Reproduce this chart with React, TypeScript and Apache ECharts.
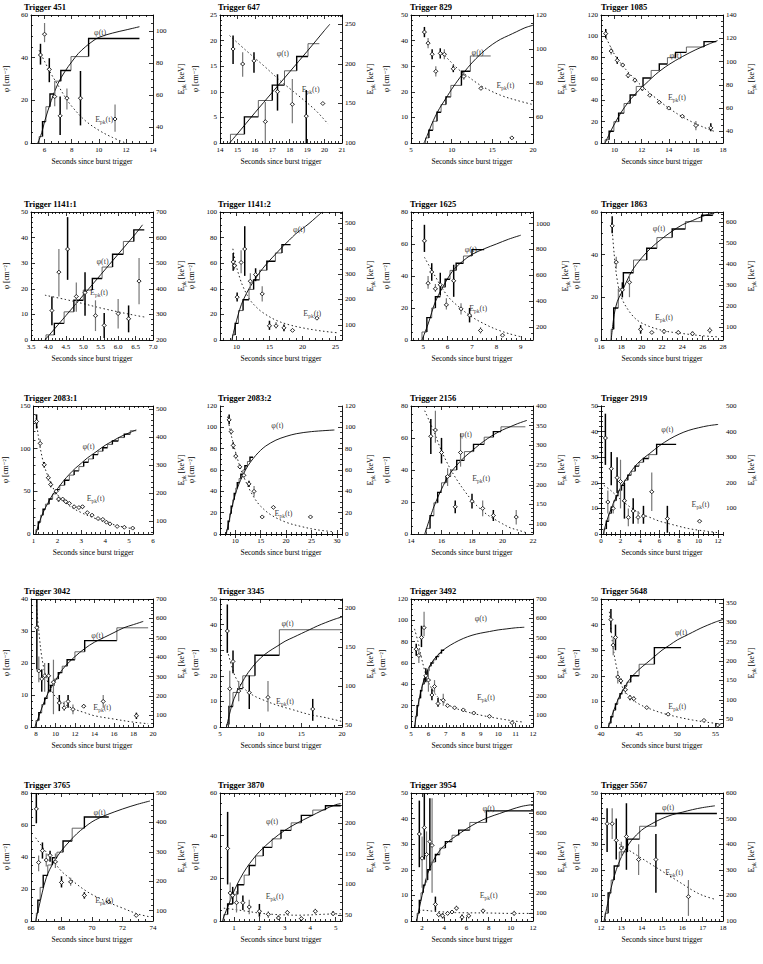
import React, { useEffect, useRef } from 'react';
import * as echarts from 'echarts';

// ---------------- Trigger 451 ----------------
const t451XTicks = [6, 8, 10, 12, 14];
const t451YTicks = [0, 20, 40, 60];
const t451RTicks = [40, 60, 80, 100];
const t451Edges = [5.6, 5.85, 6.1, 6.4, 6.75, 7.2, 7.95, 9.25, 13.0];
const t451Levels = [3, 10, 17, 23, 29, 34, 40.5, 49];
const t451Phi = [[5.5, 0], [5.8, 5], [6, 10], [6.5, 20], [7, 28], [7.5, 33.5], [8, 38], [8.5, 42], [9, 45], [9.5, 47.5], [10, 49.5], [11, 51.5], [12, 53], [13, 54.5]];
const t451Epk = [[5.7, 85, 79, 92], [6.0, 98, 93, 105], [6.35, 76, 68, 83], [6.75, 59, 53, 66], [7.15, 47, 35, 59], [7.65, 58, 51, 64], [8.65, 58, 41, 75], [11.2, 45, 37, 54]];
const t451Fit = [[5.6, 88], [6, 81], [6.5, 73], [7, 66], [7.5, 59], [8, 53], [9, 44], [10, 38], [11, 33.5], [12, 30]];

// ---------------- Trigger 647 ----------------
const t647XTicks = [14, 15, 16, 17, 18, 19, 20, 21];
const t647YTicks = [0, 5, 10, 15, 20, 25];
const t647RTicks = [100, 150, 200, 250];
const t647Edges = [14.6, 15.4, 16.2, 17.0, 17.7, 18.4, 19.05, 19.7];
const t647Levels = [1.7, 5.1, 8.3, 11.3, 14.1, 16.9, 19.4];
const t647Phi = [[14.55, 0], [15, 1.8], [16, 5.9], [17, 9.9], [18, 13.9], [19, 17.9], [20, 22], [20.3, 23.2]];
const t647Epk = [[14.75, 219, 200, 236], [15.3, 200, 184, 215], [15.95, 204, 189, 215], [16.6, 127, 100, 152], [17.3, 165, 141, 187], [18.15, 149, 125, 181], [18.95, 134, 100, 167], [19.9, 150, 150, 150]];
const t647Fit = [[14.55, 236], [15.5, 217], [16.5, 198], [17.5, 178], [18.5, 160], [19.5, 141], [20.2, 124]];

// ---------------- Trigger 829 ----------------
const t829XTicks = [5, 10, 15, 20];
const t829YTicks = [0, 10, 20, 30, 40, 50];
const t829RTicks = [60, 80, 100, 120];
const t829Edges = [6.8, 7.2, 7.7, 8.2, 8.7, 9.3, 9.9, 11.2, 12.3, 14.8];
const t829Levels = [2, 5, 8.5, 12, 15, 18, 22.5, 28, 34];
const t829Phi = [[6.6, 0], [7, 3], [7.5, 7], [8, 10.5], [8.5, 13.5], [9, 16], [9.5, 18.5], [10, 21], [11, 25.5], [12, 29.5], [13, 33], [14, 36], [15, 38.5], [16, 40.5], [17, 42], [18, 43.5], [19, 45], [20, 46]];
const t829Epk = [[6.65, 110, 107, 113], [7.1, 103.5, 100.5, 106.5], [7.6, 97, 94, 100], [8.05, 87, 84, 90], [8.6, 97.5, 94.5, 100.5], [9.1, 97, 94, 100], [10.2, 88.5, 86.5, 90.5], [11.5, 84, 82, 86], [13.6, 77, 76, 78], [17.4, 48, 48, 48]];
const t829Fit = [[8.8, 98], [10, 92], [11, 87.5], [12, 84], [13, 80.5], [14, 77.5], [16, 73], [18, 70], [20, 67.5]];

// ---------------- Trigger 1085 ----------------
const t1085XTicks = [10, 12, 14, 16, 18];
const t1085YTicks = [0, 20, 40, 60, 80, 100, 120];
const t1085RTicks = [40, 60, 80, 100, 120, 140];
const t1085Edges = [9.3, 9.6, 9.95, 10.3, 10.7, 11.15, 11.6, 12.1, 12.7, 13.3, 13.9, 14.5, 15.3, 16.6, 17.5];
const t1085Levels = [3, 11, 20, 28, 37, 45, 53, 61, 68, 74, 80, 85, 90, 95];
const t1085Phi = [[9.3, 0], [9.6, 8], [10, 18], [10.5, 29], [11, 38], [11.5, 45.5], [12, 52], [12.5, 58], [13, 64], [13.5, 69], [14, 73.5], [15, 81], [16, 87.5], [17, 93], [17.6, 96]];
const t1085Epk = [[9.35, 124, 120, 128], [9.75, 109, 106, 112], [10.2, 101, 98, 104], [10.6, 97, 95, 99], [11.0, 88, 86, 90], [11.5, 84, 82, 86], [12.05, 77, 75, 79], [12.6, 71, 70, 72], [13.3, 65, 64, 66], [14.0, 60, 59, 61], [15.0, 53, 52, 54], [16.0, 45, 41, 49], [17.1, 43, 40, 47]];
const t1085Fit = [[9.4, 120], [10, 106], [10.5, 98], [11, 91], [12, 79], [13, 69], [14, 60], [15, 52.5], [16, 46.5], [17, 41.5], [17.5, 39.5]];

// ---------------- Trigger 1141:1 ----------------
const t1141aXTicks = [3.5, 4.0, 4.5, 5.0, 5.5, 6.0, 6.5, 7.0];
const t1141aYTicks = [0, 10, 20, 30, 40, 50];
const t1141aRTicks = [200, 300, 400, 500, 600, 700];
const t1141aEdges = [3.93, 4.17, 4.45, 4.73, 5.0, 5.26, 5.54, 5.84, 6.15, 6.45, 6.75];
const t1141aLevels = [2, 6.5, 11, 15.5, 19.5, 24, 28.5, 33.5, 38.5, 43];
const t1141aPhi = [[3.9, 0], [4.5, 9.5], [5, 17.5], [5.5, 25.5], [6, 33.5], [6.5, 41.5], [6.7, 45]];
const t1141aEpk = [[4.1, 315, 258, 370], [4.3, 465, 370, 555], [4.55, 555, 435, 680], [4.8, 370, 310, 425], [5.05, 385, 295, 465], [5.35, 295, 235, 355], [5.6, 257, 208, 305], [6.0, 303, 245, 360], [6.3, 283, 230, 335], [6.6, 430, 340, 520]];
const t1141aFit = [[3.9, 375], [4.5, 358], [5, 342], [5.5, 325], [6, 310], [6.5, 296], [6.75, 290]];

// ---------------- Trigger 1141:2 ----------------
const t1141bXTicks = [10, 15, 20, 25];
const t1141bYTicks = [0, 20, 40, 60, 80, 100];
const t1141bRTicks = [100, 200, 300, 400, 500];
const t1141bEdges = [9.4, 9.8, 10.3, 11.0, 11.9, 12.6, 13.5, 14.6, 15.9, 16.9, 18.2];
const t1141bLevels = [4, 13, 23, 31.5, 39.5, 47, 54.5, 61.5, 68, 74.5];
const t1141bPhi = [[9.3, 0], [9.6, 7], [10, 15], [10.5, 24], [11, 31], [12, 41], [13, 49], [14, 56], [15, 62], [16, 67.5], [17, 73], [18, 78], [19, 83], [20, 87], [21, 91], [22, 95.5], [23, 100]];
const t1141bEpk = [[9.5, 348, 313, 383], [9.7, 333, 318, 348], [10.1, 209, 192, 227], [10.7, 346, 303, 394], [11.25, 399, 293, 489], [12.1, 272, 242, 303], [12.9, 298, 272, 323], [13.9, 222, 192, 252], [15.0, 96, 80, 116], [16.0, 96, 85, 111], [17.2, 88, 75, 101], [18.5, 78, 78, 78], [22.2, 126, 126, 126]];
const t1141bFit = [[9.45, 400], [10, 330], [10.5, 285], [11, 250], [12, 200], [13, 170], [14, 148], [16, 118], [18, 100], [20, 88], [22, 79], [24, 72], [25.5, 68]];

// ---------------- Trigger 1625 ----------------
const t1625XTicks = [5, 6, 7, 8, 9];
const t1625YTicks = [0, 20, 40, 60, 80];
const t1625RTicks = [200, 400, 600, 800, 1000];
const t1625Edges = [4.95, 5.15, 5.35, 5.5, 5.7, 5.9, 6.1, 6.35, 6.65, 7.0, 7.5];
const t1625Levels = [5, 14, 20, 27, 33, 38, 43.5, 48, 52.5, 56.5];
const t1625Phi = [[4.95, 0], [5.2, 10], [5.5, 24], [5.8, 33], [6.2, 43], [6.6, 49], [7, 53.5], [7.5, 57], [8, 60], [8.5, 63], [9, 65.5]];
const t1625Epk = [[5.05, 867, 781, 991], [5.2, 539, 496, 595], [5.35, 626, 558, 694], [5.5, 496, 471, 533], [5.7, 527, 446, 620], [5.95, 372, 335, 422], [6.25, 558, 434, 682], [6.55, 341, 298, 385], [6.9, 292, 236, 348], [7.35, 174, 150, 199], [8.25, 137, 137, 137]];
const t1625Fit = [[5.05, 740], [5.5, 590], [6, 440], [6.5, 350], [7, 278], [7.5, 225], [8, 182], [8.5, 150], [9, 125]];

// ---------------- Trigger 1863 ----------------
const t1863XTicks = [16, 18, 20, 22, 24, 26, 28];
const t1863YTicks = [0, 20, 40, 60];
const t1863RTicks = [100, 200, 300, 400, 500, 600];
const t1863Edges = [17.0, 17.25, 17.7, 18.2, 19.2, 20.5, 21.5, 23.0, 24.3, 25.9, 27.0, 27.5];
const t1863Levels = [5, 15, 24, 31.5, 37.5, 43, 48, 52, 55.5, 58.5, 60];
const t1863Phi = [[17.0, 0], [17.3, 12], [17.6, 18], [18, 22], [19, 32], [20, 38.5], [21, 43.5], [22, 47.5], [23, 51], [24, 54], [25, 56], [26, 58], [27, 59.5], [27.5, 60]];
const t1863Epk = [[17.1, 584, 549, 630], [17.5, 411, 380, 437], [18.1, 279, 243, 315], [18.8, 315, 244, 355], [19.9, 91, 70, 111], [21.0, 76, 70, 82], [22.2, 81, 71, 91], [23.6, 76, 66, 86], [25.0, 70, 60, 80], [26.7, 86, 71, 101]];
const t1863Fit = [[17.05, 599], [17.3, 447], [17.6, 325], [18, 243], [19, 162], [20, 121], [22, 86], [24, 71], [26, 60], [27.5, 55]];

// ---------------- Trigger 2083:1 ----------------
const t2083aXTicks = [1, 2, 3, 4, 5, 6];
const t2083aYTicks = [0, 50, 100, 150];
const t2083aRTicks = [100, 200, 300, 400, 500];
const t2083aEdges = [1.1, 1.2, 1.3, 1.4, 1.5, 1.65, 1.8, 1.95, 2.1, 2.3, 2.5, 2.7, 2.9, 3.1, 3.3, 3.5, 3.7, 3.9, 4.1, 4.3, 4.55, 4.8, 5.05, 5.3];
const t2083aLevels = [5, 14, 22, 29, 35, 41, 47, 52, 57, 63, 69, 74, 79, 84, 88, 93, 97, 101, 105, 109, 113, 117, 121];
const t2083aPhi = [[1.1, 0], [1.2, 10], [1.4, 25], [1.6, 36], [1.8, 46], [2, 53], [2.25, 62], [2.5, 70], [2.75, 77], [3, 83], [3.25, 89], [3.5, 94], [3.75, 99], [4, 104], [4.25, 108], [4.5, 112], [4.75, 115.5], [5, 118.5], [5.3, 122]];
const t2083aEpk = [[1.13, 455, 430, 480], [1.28, 377, 362, 392], [1.45, 301, 291, 311], [1.62, 255, 243, 267], [1.72, 231, 221, 241], [1.95, 207, 200, 214], [2.05, 179, 170, 188], [2.22, 179, 172, 186], [2.35, 170, 164, 176], [2.5, 164, 159, 169], [2.7, 152, 147, 157], [2.9, 149, 145, 153], [3.05, 152, 146, 158], [3.25, 131, 127, 135], [3.45, 122, 119, 125], [3.7, 110, 107, 113], [3.9, 107, 104, 110], [4.05, 97, 94, 100], [4.2, 91, 88, 94], [4.5, 82, 80, 84], [4.8, 79, 77, 81], [5.15, 76, 74, 78]];
const t2083aFit = [[1.1, 480], [1.2, 404], [1.4, 313], [1.6, 261], [1.8, 222], [2, 195], [2.5, 155], [3, 131], [3.5, 113], [4, 97], [4.5, 85], [5, 76], [5.3, 73]];

// ---------------- Trigger 2083:2 ----------------
const t2083bXTicks = [10, 15, 20, 25, 30];
const t2083bYTicks = [0, 20, 40, 60, 80, 100, 120];
const t2083bRTicks = [0, 20, 40, 60, 80, 100, 120];
const t2083bEdges = [8.3, 8.6, 8.9, 9.2, 9.5, 9.8, 10.1, 10.4, 10.75, 11.1, 11.5, 11.9, 12.4, 12.9, 13.5];
const t2083bLevels = [4, 12, 19, 26, 32, 38, 43, 48, 52, 56, 60, 64, 68, 72];
const t2083bPhi = [[8.2, 0], [8.6, 8], [9, 17], [9.5, 28], [10, 37], [10.5, 44], [11, 50], [11.5, 55], [12, 60], [12.5, 64], [13, 67.5], [14, 73.5], [15, 78.5], [16, 82.5], [18, 88], [20, 91.5], [22, 94], [25, 96], [29.5, 97.5]];
const t2083bEpk = [[8.8, 107, 103, 112], [9.2, 96, 93, 99], [9.6, 83, 80, 86], [10.1, 73, 70, 76], [10.9, 63, 61, 65], [11.7, 55, 53, 57], [12.7, 47, 44, 50], [13.7, 40, 35, 45], [15.3, 16, 16, 16], [17.5, 25, 25, 25], [24.8, 16, 16, 16]];
const t2083bFit = [[8.5, 110], [9, 97], [10, 78], [11, 62], [12, 50], [13, 40], [14, 32], [15, 26], [17, 18], [20, 11], [23, 7], [26, 4], [29.5, 2]];

// ---------------- Trigger 2156 ----------------
const t2156XTicks = [14, 16, 18, 20, 22];
const t2156YTicks = [0, 20, 40, 60, 80];
const t2156RTicks = [100, 150, 200, 250, 300, 350, 400];
const t2156Edges = [15.0, 15.25, 15.5, 15.75, 16.0, 16.3, 16.6, 17.0, 17.5, 18.1, 18.8, 19.4, 19.9, 21.5];
const t2156Levels = [3.5, 11.5, 19.5, 26, 32, 36, 40, 46, 51.5, 56, 60.5, 64, 67];
const t2156Phi = [[14.9, 0], [15.5, 17], [16, 28], [16.5, 37], [17, 43], [17.5, 48], [18, 52], [18.5, 56], [19, 59.5], [19.5, 62.5], [20, 65], [20.5, 67], [21, 69], [21.6, 71]];
const t2156Epk = [[15.3, 323, 278, 367], [15.6, 339, 307, 388], [16.0, 282, 254, 319], [16.4, 221, 197, 242], [16.9, 144, 128, 160], [17.25, 282, 246, 331], [18.0, 158, 140, 177], [18.7, 140, 120, 160], [19.4, 122, 108, 136], [20.9, 118, 99, 136]];
const t2156Fit = [[14.9, 388], [15.5, 335], [16, 286], [16.5, 246], [17, 213], [17.5, 185], [18, 160], [18.5, 140], [19, 124], [19.5, 112], [20, 101], [20.5, 91], [21, 85], [21.5, 79]];

// ---------------- Trigger 2919 ----------------
const t2919XTicks = [0, 2, 4, 6, 8, 10, 12];
const t2919YTicks = [0, 10, 20, 30, 40, 50];
const t2919RTicks = [100, 200, 300, 400, 500];
const t2919Edges = [0.3, 0.55, 0.8, 1.05, 1.3, 1.55, 1.8, 2.1, 2.4, 2.75, 3.1, 3.5, 3.9, 4.35, 4.9, 5.7, 7.7];
const t2919Levels = [2, 5, 8, 10.5, 13, 15, 17, 19, 21, 23, 24.5, 26.5, 28, 29.5, 31, 35];
const t2919Phi = [[0.25, 0], [0.5, 4], [1, 9.5], [1.5, 14], [2, 18], [2.5, 21], [3, 24], [3.5, 26.5], [4, 28.5], [5, 31.5], [6, 34.5], [7, 37], [8, 39], [9, 40.5], [10, 41.5], [11, 42.3], [12, 42.8]];
const t2919Epk = [[0.45, 375, 270, 470], [0.7, 125, 80, 170], [1.05, 255, 190, 320], [1.25, 100, 80, 120], [1.65, 220, 160, 300], [2.0, 205, 100, 290], [2.4, 130, 60, 200], [2.8, 65, 30, 100], [3.3, 90, 40, 140], [3.8, 65, 40, 90], [4.35, 70, 40, 110], [5.2, 165, 90, 240], [6.8, 60, 5, 110], [10.1, 50, 50, 50]];
const t2919Fit = [[0.3, 190], [1, 170], [2, 135], [3, 105], [4, 80], [5, 65], [6, 50], [7, 40], [8, 30], [9, 21], [10, 15], [11, 10], [12, 5]];

// ---------------- Trigger 3042 ----------------
const t3042XTicks = [8, 10, 12, 14, 16, 18, 20];
const t3042YTicks = [0, 10, 20, 30, 40];
const t3042RTicks = [100, 200, 300, 400, 500, 600, 700];
const t3042Edges = [8.0, 8.3, 8.6, 8.9, 9.2, 9.5, 9.9, 10.3, 10.7, 11.2, 12.0, 13.0, 16.3, 19.5];
const t3042Levels = [2, 4.5, 7, 9, 11, 13, 15, 17, 19, 21, 23.5, 27, 31];
const t3042Phi = [[7.9, 0], [8.5, 5], [9, 9], [9.5, 12], [10, 14.5], [10.5, 17], [11, 19], [12, 22], [13, 24.5], [14, 26.5], [15, 28], [16, 29.5], [17, 31], [18, 32], [19, 33]];
const t3042Epk = [[8.1, 552, 337, 700], [8.3, 329, 271, 403], [8.6, 288, 222, 337], [8.9, 304, 222, 370], [9.3, 304, 222, 370], [9.8, 271, 106, 387], [10.4, 164, 122, 205], [10.9, 139, 122, 172], [11.3, 172, 139, 205], [11.8, 131, 106, 156], [12.9, 147, 139, 156], [14.9, 172, 139, 205], [18.3, 98, 81, 114]];
const t3042Fit = [[8.05, 667], [8.3, 535], [8.6, 403], [9, 304], [9.5, 238], [10, 197], [11, 156], [12, 131], [13, 114], [14, 98], [16, 81], [18, 65], [19.5, 57]];

// ---------------- Trigger 3345 ----------------
const t3345XTicks = [5, 10, 15, 20];
const t3345YTicks = [0, 10, 20, 30, 40, 50];
const t3345RTicks = [50, 100, 150, 200];
const t3345Edges = [5.8, 6.1, 6.6, 7.2, 7.8, 9.3, 12.3, 20.0];
const t3345Levels = [1, 8, 13.5, 15, 20, 28, 38];
const t3345Phi = [[5.8, 0], [6.5, 9], [7, 13], [8, 19], [9, 23.5], [10, 27], [11, 29.5], [12, 31.5], [13, 33.5], [14, 35], [15, 36.5], [16, 38], [17, 39.5], [18, 40.8], [19, 42], [20, 43]];
const t3345Epk = [[5.9, 171, 143, 205], [6.2, 97, 74, 120], [6.6, 132, 117, 146], [7.3, 94, 81, 107], [8.6, 92, 71, 114], [10.9, 86, 68, 107], [16.4, 71, 56, 84]];
const t3345Fit = [[5.9, 146], [6.5, 124], [7, 110], [8, 97], [9, 89], [10, 84], [12, 76], [14, 70], [16, 64], [18, 60], [20, 55]];

// ---------------- Trigger 3492 ----------------
const t3492XTicks = [5, 6, 7, 8, 9, 10, 11, 12];
const t3492YTicks = [0, 20, 40, 60, 80, 100, 120];
const t3492RTicks = [100, 200, 300, 400, 500, 600, 700];
const t3492Edges = [5.25, 5.35, 5.45, 5.55, 5.65, 5.75, 5.85, 5.95, 6.05, 6.15, 6.3, 6.45, 6.6, 6.75, 6.9];
const t3492Levels = [10, 20, 27, 34, 40, 45, 49, 53, 57, 60, 63, 66, 69, 72];
const t3492Phi = [[5.2, 0], [5.4, 20], [5.6, 36], [5.8, 47], [6, 55], [6.3, 63], [6.6, 68.5], [7, 74], [7.5, 79], [8, 83], [8.5, 86], [9, 88], [9.5, 89.5], [10, 91], [10.5, 92], [11, 93], [11.5, 93.5]];
const t3492Epk = [[5.3, 441, 408, 469], [5.45, 409, 370, 442], [5.6, 502, 452, 562], [5.75, 552, 508, 634], [5.85, 304, 271, 343], [6.0, 282, 222, 343], [6.2, 205, 178, 238], [6.35, 249, 216, 282], [6.55, 161, 145, 189], [6.85, 178, 150, 211], [7.1, 150, 150, 150], [7.5, 139, 139, 139], [8.0, 128, 128, 128], [8.6, 112, 112, 112], [9.5, 95, 95, 95], [10.8, 62, 62, 62]];
const t3492Fit = [[5.2, 546], [5.4, 480], [5.6, 397], [5.8, 326], [6, 271], [6.3, 222], [6.6, 189], [7, 161], [7.5, 139], [8, 123], [9, 101], [10, 84], [11, 70], [11.5, 65]];

// ---------------- Trigger 5648 ----------------
const t5648XTicks = [40, 45, 50, 55];
const t5648YTicks = [0, 10, 20, 30, 40, 50];
const t5648RTicks = [50, 100, 150, 200, 250, 300, 350];
const t5648Edges = [41.0, 41.3, 41.6, 41.9, 42.2, 42.5, 42.8, 43.1, 43.4, 43.9, 45.0, 47.0, 50.5];
const t5648Levels = [1.5, 4, 6.5, 9, 11, 13, 14.5, 16, 17.5, 20, 24.5, 31];
const t5648Phi = [[41, 0], [41.5, 5], [42, 9], [42.5, 12.5], [43, 15], [43.5, 17.5], [44, 19.5], [45, 22.5], [46, 25], [47, 27.5], [48, 30], [49, 32], [50, 34], [51, 35.5], [52, 37], [53, 38.5], [54, 39.8], [55, 41], [56, 42]];
const t5648Epk = [[41.3, 307, 274, 334], [41.6, 241, 215, 261], [41.9, 261, 228, 294], [42.2, 159, 142, 175], [42.6, 149, 142, 155], [43.2, 126, 116, 136], [43.8, 106, 99, 112], [44.3, 103, 96, 109], [46, 80, 80, 80], [48.8, 63, 63, 63], [53.5, 47, 47, 47], [55.3, 35, 35, 35]];
const t5648Fit = [[41.1, 327], [41.5, 248], [42, 188], [42.5, 149], [43, 126], [44, 103], [45, 89], [46, 80], [48, 66], [50, 56], [52, 48], [54, 42], [56, 37]];

// ---------------- Trigger 3765 ----------------
const t3765XTicks = [66, 68, 70, 72, 74];
const t3765YTicks = [0, 20, 40, 60, 80];
const t3765RTicks = [100, 200, 300, 400, 500];
const t3765Edges = [66.35, 66.45, 66.6, 66.8, 67.1, 67.4, 67.7, 68.1, 68.7, 69.5, 71.1];
const t3765Levels = [5, 13, 21, 28.5, 35, 39.5, 43, 50, 58, 65];
const t3765Phi = [[66.3, 0], [66.5, 8], [67, 27], [67.5, 37], [68, 44], [68.5, 49.5], [69, 54.5], [69.5, 58.5], [70, 62], [70.5, 64.5], [71, 66.5], [72, 70], [73, 73], [73.8, 75]];
const t3765Epk = [[66.35, 446, 397, 500], [66.5, 264, 234, 288], [66.75, 304, 277, 332], [67.0, 272, 250, 294], [67.25, 288, 266, 304], [67.6, 266, 245, 294], [68.0, 196, 179, 217], [68.6, 198, 185, 212], [69.5, 152, 141, 163], [71.1, 130, 124, 136], [72.9, 84, 84, 84]];
const t3765Fit = [[66.3, 348], [67, 299], [67.5, 266], [68, 234], [68.5, 212], [69, 190], [69.5, 171], [70, 155], [71, 130], [72, 109], [73, 89], [73.8, 79]];

// ---------------- Trigger 3870 ----------------
const t3870XTicks = [1, 2, 3, 4, 5];
const t3870YTicks = [0, 20, 40, 60];
const t3870RTicks = [50, 100, 150, 200, 250];
const t3870Edges = [0.6, 0.75, 0.95, 1.15, 1.4, 1.6, 1.85, 2.15, 2.5, 2.85, 3.25, 3.65, 4.1, 4.6, 5.2];
const t3870Levels = [3, 8, 12.5, 17, 21.5, 26, 30.5, 34.5, 38.5, 42.5, 46, 49.5, 52, 54];
const t3870Phi = [[0.55, 0], [0.6, 2], [0.8, 8], [1, 14], [1.25, 20], [1.5, 25], [1.75, 29], [2, 32.5], [2.5, 38], [3, 42.5], [3.5, 46], [4, 49], [4.5, 52], [5, 54.5], [5.2, 55]];
const t3870Epk = [[0.75, 159, 100, 219], [0.85, 86, 72, 103], [0.95, 82, 68, 96], [1.1, 70, 54, 89], [1.35, 70, 58, 82], [1.6, 63, 51, 75], [2.0, 56, 47, 68], [2.35, 51, 45, 56], [2.75, 45, 42, 49], [3.1, 54, 50, 58], [3.65, 44, 40, 47], [4.2, 56, 52, 60], [4.9, 52, 49, 56]];
const t3870Fit = [[0.6, 61], [1, 59], [1.5, 56], [2, 53], [2.5, 51], [3, 50], [3.5, 49.5], [4, 50], [4.5, 51], [5.2, 52]];

// ---------------- Trigger 3954 ----------------
const t3954XTicks = [2, 4, 6, 8, 10, 12];
const t3954YTicks = [0, 10, 20, 30, 40, 50];
const t3954RTicks = [100, 200, 300, 400, 500, 600, 700];
const t3954Edges = [1.55, 1.75, 1.9, 2.1, 2.3, 2.5, 2.8, 3.2, 3.6, 4.1, 4.7, 5.3, 6.3, 7.8, 12.0];
const t3954Levels = [3, 8, 11, 14, 16, 20, 23, 26, 28.5, 31, 33.5, 35.5, 38.5, 43];
const t3954Phi = [[1.5, 0], [1.75, 5], [2, 10], [2.25, 14.5], [2.5, 18.5], [3, 23.5], [3.5, 27], [4, 29.5], [4.5, 31.5], [5, 33], [6, 36], [7, 38.5], [8, 40.5], [9, 42], [10, 43.5], [11, 44.8], [12, 45.5]];
const t3954Epk = [[1.75, 495, 329, 662], [2.0, 374, 226, 482], [2.2, 527, 367, 700], [2.4, 393, 252, 508], [2.7, 457, 316, 674], [2.9, 438, 201, 674], [3.2, 143, 111, 182], [3.5, 92, 79, 105], [3.85, 86, 73, 99], [4.3, 98, 89, 107], [4.7, 105, 98, 112], [5.1, 124, 111, 137], [5.6, 79, 66, 92], [6.2, 86, 73, 99], [7.5, 111, 104, 118], [10.3, 98, 86, 111]];
const t3954Fit = [[1.7, 111], [2, 114], [3, 109], [4, 105], [5, 102], [6, 101], [8, 100], [10, 98], [12, 98]];

// ---------------- Trigger 5567 ----------------
const t5567XTicks = [12, 13, 14, 15, 16, 17, 18];
const t5567YTicks = [0, 10, 20, 30, 40, 50];
const t5567RTicks = [100, 200, 300, 400, 500, 600];
const t5567Edges = [12.2, 12.35, 12.5, 12.65, 12.9, 13.3, 13.9, 14.7, 17.7];
const t5567Levels = [3, 11, 16, 21.5, 27, 32, 37, 42];
const t5567Phi = [[12.15, 0], [12.5, 13], [12.75, 20], [13, 25], [13.25, 28.5], [13.5, 31.5], [14, 35.5], [14.5, 38], [15, 40], [15.5, 41.5], [16, 42.5], [16.5, 43.5], [17, 44.3], [17.6, 45]];
const t5567Epk = [[12.3, 480, 370, 540], [12.55, 480, 420, 540], [12.75, 415, 340, 500], [13.0, 385, 350, 410], [13.25, 430, 300, 560], [13.85, 340, 280, 400], [14.7, 340, 210, 440], [16.3, 195, 120, 260]];
const t5567Fit = [[12.9, 400], [13.5, 370], [14, 345], [14.5, 320], [15, 295], [15.5, 270], [16, 245], [16.5, 220], [17, 200], [17.6, 185]];

const panels = [
  { title: 'Trigger 451', x: [5, 14], xt: t451XTicks, y: [0, 60], yt: t451YTicks, r: [30, 110], rt: t451RTicks, edges: t451Edges, levels: t451Levels, phi: t451Phi, epk: t451Epk, fit: t451Fit, phiLab: [10.1, 52], epkLab: [10.4, 11] },
  { title: 'Trigger 647', x: [14, 21], xt: t647XTicks, y: [0, 25], yt: t647YTicks, r: [100, 262], rt: t647RTicks, edges: t647Edges, levels: t647Levels, phi: t647Phi, epk: t647Epk, fit: t647Fit, phiLab: [17.6, 17.5], epkLab: [19.2, 10.5] },
  { title: 'Trigger 829', x: [5, 20], xt: t829XTicks, y: [0, 50], yt: t829YTicks, r: [45, 120], rt: t829RTicks, edges: t829Edges, levels: t829Levels, phi: t829Phi, epk: t829Epk, fit: t829Fit, phiLab: [13.2, 35.5], epkLab: [16.6, 22.5] },
  { title: 'Trigger 1085', x: [9, 18], xt: t1085XTicks, y: [0, 120], yt: t1085YTicks, r: [30, 140], rt: t1085RTicks, edges: t1085Edges, levels: t1085Levels, phi: t1085Phi, epk: t1085Epk, fit: t1085Fit, phiLab: [14.5, 82], epkLab: [14.6, 43] },
  { title: 'Trigger 1141:1', x: [3.5, 7.0], xt: t1141aXTicks, xd: 1, y: [0, 50], yt: t1141aYTicks, r: [200, 700], rt: t1141aRTicks, edges: t1141aEdges, levels: t1141aLevels, phi: t1141aPhi, epk: t1141aEpk, fit: t1141aFit, phiLab: [5.55, 30.5], epkLab: [5.45, 18.5] },
  { title: 'Trigger 1141:2', x: [7.5, 26], xt: t1141bXTicks, y: [0, 100], yt: t1141bYTicks, r: [40, 545], rt: t1141bRTicks, edges: t1141bEdges, levels: t1141bLevels, phi: t1141bPhi, epk: t1141bEpk, fit: t1141bFit, phiLab: [19.5, 86], epkLab: [21.5, 21] },
  { title: 'Trigger 1625', x: [4.5, 9.5], xt: t1625XTicks, y: [0, 80], yt: t1625YTicks, r: [100, 1090], rt: t1625RTicks, edges: t1625Edges, levels: t1625Levels, phi: t1625Phi, epk: t1625Epk, fit: t1625Fit, phiLab: [6.95, 56.5], epkLab: [7.25, 19.5] },
  { title: 'Trigger 1863', x: [16, 28], xt: t1863XTicks, y: [0, 60], yt: t1863YTicks, r: [40, 650], rt: t1863RTicks, edges: t1863Edges, levels: t1863Levels, phi: t1863Phi, epk: t1863Epk, fit: t1863Fit, phiLab: [21.7, 52.5], epkLab: [22.2, 10.5] },
  { title: 'Trigger 2083:1', x: [1, 6], xt: t2083aXTicks, y: [0, 150], yt: t2083aYTicks, r: [55, 510], rt: t2083aRTicks, edges: t2083aEdges, levels: t2083aLevels, phi: t2083aPhi, epk: t2083aEpk, fit: t2083aFit, phiLab: [3.3, 103], epkLab: [3.6, 42] },
  { title: 'Trigger 2083:2', x: [7, 31], xt: t2083bXTicks, y: [0, 120], yt: t2083bYTicks, r: [0, 120], rt: t2083bRTicks, edges: t2083bEdges, levels: t2083bLevels, phi: t2083bPhi, epk: t2083bEpk, fit: t2083bFit, phiLab: [18.3, 102], epkLab: [19.5, 19] },
  { title: 'Trigger 2156', x: [14, 22], xt: t2156XTicks, y: [0, 80], yt: t2156YTicks, r: [75, 400], rt: t2156RTicks, edges: t2156Edges, levels: t2156Levels, phi: t2156Phi, epk: t2156Epk, fit: t2156Fit, phiLab: [17.6, 62], epkLab: [18.6, 35] },
  { title: 'Trigger 2919', x: [0, 12.5], xt: t2919XTicks, y: [0, 50], yt: t2919YTicks, r: [0, 500], rt: t2919RTicks, edges: t2919Edges, levels: t2919Levels, phi: t2919Phi, epk: t2919Epk, fit: t2919Fit, phiLab: [6.8, 41], epkLab: [10.2, 11.5] },
  { title: 'Trigger 3042', x: [7.5, 20], xt: t3042XTicks, y: [0, 40], yt: t3042YTicks, r: [40, 700], rt: t3042RTicks, edges: t3042Edges, levels: t3042Levels, phi: t3042Phi, epk: t3042Epk, fit: t3042Fit, phiLab: [14.3, 28.5], epkLab: [14.8, 6] },
  { title: 'Trigger 3345', x: [5, 20], xt: t3345XTicks, y: [0, 50], yt: t3345YTicks, r: [48, 212], rt: t3345RTicks, edges: t3345Edges, levels: t3345Levels, phi: t3345Phi, epk: t3345Epk, fit: t3345Fit, phiLab: [13.3, 40.5], epkLab: [13.0, 10] },
  { title: 'Trigger 3492', x: [5, 12], xt: t3492XTicks, y: [0, 120], yt: t3492YTicks, r: [40, 700], rt: t3492RTicks, edges: t3492Edges, levels: t3492Levels, phi: t3492Phi, epk: t3492Epk, fit: t3492Fit, phiLab: [9, 102], epkLab: [9.3, 28] },
  { title: 'Trigger 5648', x: [40, 56], xt: t5648XTicks, y: [0, 50], yt: t5648YTicks, r: [30, 360], rt: t5648RTicks, edges: t5648Edges, levels: t5648Levels, phi: t5648Phi, epk: t5648Epk, fit: t5648Fit, phiLab: [50.5, 37], epkLab: [50, 8] },
  { title: 'Trigger 3765', x: [66, 74], xt: t3765XTicks, y: [0, 80], yt: t3765YTicks, r: [65, 500], rt: t3765RTicks, edges: t3765Edges, levels: t3765Levels, phi: t3765Phi, epk: t3765Epk, fit: t3765Fit, phiLab: [70.5, 68], epkLab: [70.8, 13] },
  { title: 'Trigger 3870', x: [0.45, 5.25], xt: t3870XTicks, y: [0, 60], yt: t3870YTicks, r: [40, 250], rt: t3870RTicks, edges: t3870Edges, levels: t3870Levels, phi: t3870Phi, epk: t3870Epk, fit: t3870Fit, phiLab: [2.5, 46.5], epkLab: [2.6, 11.5] },
  { title: 'Trigger 3954', x: [1, 12], xt: t3954XTicks, y: [0, 50], yt: t3954YTicks, r: [60, 700], rt: t3954RTicks, edges: t3954Edges, levels: t3954Levels, phi: t3954Phi, epk: t3954Epk, fit: t3954Fit, phiLab: [8.0, 44], epkLab: [8.0, 10] },
  { title: 'Trigger 5567', x: [12, 18], xt: t5567XTicks, y: [0, 50], yt: t5567YTicks, r: [100, 600], rt: t5567RTicks, edges: t5567Edges, levels: t5567Levels, phi: t5567Phi, epk: t5567Epk, fit: t5567Fit, phiLab: [15.3, 44.5], epkLab: [15.6, 19] },
];

const FONT = "'Liberation Serif', 'DejaVu Serif', serif";
const COLS = [31, 220, 411, 601];
const TITLE_X = [24, 218, 410, 601];
const ROWS = [15, 212, 406, 599, 793];
const GW = 122;
const GH = 128;

function minorTicks(ticks: number[], min: number, max: number) {
  const step = ticks[1] - ticks[0];
  const lead = step / Math.pow(10, Math.floor(Math.log10(step) + 1e-9));
  const n = Math.abs(lead - 2) < 1e-6 ? 4 : 5;
  const m = step / n;
  const start = ticks[0] - Math.floor((ticks[0] - min) / m + 1e-9) * m;
  const out: number[] = [];
  for (let v = start; v <= max + 1e-9; v += m) {
    const r = Math.round(v * 1e6) / 1e6;
    if (r < min - 1e-9) continue;
    if (!ticks.some((t) => Math.abs(t - r) < 1e-6)) out.push(r);
  }
  return out;
}

const richSub = {
  e: { fontSize: 8, lineHeight: 11, fontFamily: FONT, color: '#000', textBorderWidth: 0, textBorderColor: 'transparent' },
  s: { fontSize: 5.5, lineHeight: 6, verticalAlign: 'bottom', fontFamily: FONT, color: '#000', textBorderWidth: 0, textBorderColor: 'transparent' },
};

function buildOption() {
  const grid: any[] = [];
  const xAxis: any[] = [];
  const yAxis: any[] = [];
  const series: any[] = [];
  const title: any[] = [];
  const lineStyle = { color: '#000', width: 0.9 };
  const tickStyle = { color: '#000', width: 0.8 };
  const plain = (v: number) => String(v);

  panels.forEach((p: any, i: number) => {
    const col = i % 4;
    const row = Math.floor(i / 4);
    grid.push({ left: COLS[col], top: ROWS[row], width: GW, height: GH, containLabel: false });
    title.push({
      text: p.title, left: TITLE_X[col], top: ROWS[row] - 13, padding: 0,
      textStyle: { fontSize: 8.5, fontWeight: 'bold', fontFamily: FONT, color: '#000' },
    });
    const xt = p.xt.filter((v: number) => v >= p.x[0] - 1e-9 && v <= p.x[1] + 1e-9);
    const yt = p.yt.filter((v: number) => v >= p.y[0] - 1e-9 && v <= p.y[1] + 1e-9);
    const rt = p.rt.filter((v: number) => v >= p.r[0] - 1e-9 && v <= p.r[1] + 1e-9);
    const xm = minorTicks(p.xt, p.x[0], p.x[1]);
    const ym = minorTicks(p.yt, p.y[0], p.y[1]);
    const rm = minorTicks(p.rt, p.r[0], p.r[1]);
    const base = { type: 'value', gridIndex: i, splitLine: { show: false } };
    const hidden = { show: false };
    // x axes
    xAxis.push({
      ...base, min: p.x[0], max: p.x[1], position: 'bottom',
      axisLine: { show: true, lineStyle },
      axisTick: { show: true, inside: true, length: 4, customValues: xt, lineStyle: tickStyle },
      axisLabel: {
        show: true, customValues: xt, fontSize: 7, margin: 3, fontFamily: FONT, color: '#000',
        formatter: (v: number) => (p.xd ? v.toFixed(p.xd) : String(v)),
      },
      name: 'Seconds since burst trigger', nameLocation: 'middle', nameGap: 14,
      nameTextStyle: { fontSize: 7.5, fontFamily: FONT, color: '#000' },
    });
    xAxis.push({
      ...base, min: p.x[0], max: p.x[1], position: 'bottom', axisLine: hidden,
      axisTick: { show: true, inside: true, length: 2, customValues: xm, lineStyle: tickStyle }, axisLabel: hidden,
    });
    xAxis.push({
      ...base, min: p.x[0], max: p.x[1], position: 'top', axisLine: { show: true, lineStyle },
      axisTick: { show: true, inside: true, length: 4, customValues: xt, lineStyle: tickStyle }, axisLabel: hidden,
    });
    xAxis.push({
      ...base, min: p.x[0], max: p.x[1], position: 'top', axisLine: hidden,
      axisTick: { show: true, inside: true, length: 2, customValues: xm, lineStyle: tickStyle }, axisLabel: hidden,
    });
    // y axes
    const yChars = Math.max(...yt.map((v: number) => String(v).length));
    const rChars = Math.max(...rt.map((v: number) => String(v).length));
    yAxis.push({
      ...base, min: p.y[0], max: p.y[1], position: 'left',
      axisLine: { show: true, lineStyle },
      axisTick: { show: true, inside: true, length: 4, customValues: yt, lineStyle: tickStyle },
      axisLabel: { show: true, customValues: yt, fontSize: 7, margin: 3, fontFamily: FONT, color: '#000', formatter: plain },
      name: 'φ [cm⁻²]', nameLocation: 'middle', nameGap: 14 + yChars * 3.5, nameRotate: 90,
      nameTextStyle: { fontSize: 7.5, fontFamily: FONT, color: '#000' },
    });
    yAxis.push({
      ...base, min: p.y[0], max: p.y[1], position: 'left', axisLine: hidden,
      axisTick: { show: true, inside: true, length: 2, customValues: ym, lineStyle: tickStyle }, axisLabel: hidden,
    });
    yAxis.push({
      ...base, min: p.r[0], max: p.r[1], position: 'right',
      axisLine: { show: true, lineStyle },
      axisTick: { show: true, inside: true, length: 4, customValues: rt, lineStyle: tickStyle },
      axisLabel: { show: true, customValues: rt, fontSize: 7, margin: 3, fontFamily: FONT, color: '#000', formatter: plain },
      name: '{e|E}{s|pk}{e| [keV]}', nameLocation: 'middle', nameGap: 12 + rChars * 3.8, nameRotate: 90,
      nameTextStyle: { fontSize: 7.5, fontFamily: FONT, color: '#000', rich: richSub },
    });
    yAxis.push({
      ...base, min: p.r[0], max: p.r[1], position: 'right', axisLine: hidden,
      axisTick: { show: true, inside: true, length: 2, customValues: rm, lineStyle: tickStyle }, axisLabel: hidden,
    });

    const xi = 4 * i;
    const yl = 4 * i;
    const yr = 4 * i + 2;

    const stepData = p.levels.map((lv: number, k: number) => [p.edges[k], p.edges[k + 1], lv, k === 0 ? 0 : p.levels[k - 1]]);
    series.push({
      type: 'custom', xAxisIndex: xi, yAxisIndex: yl, clip: true, silent: true,
      data: stepData, encode: { x: [0, 1], y: [2, 3] },
      renderItem: (params: any, api: any) => {
        const x0 = api.value(0), x1 = api.value(1), lv = api.value(2), pv = api.value(3);
        const a = api.coord([x0, pv]);
        const b = api.coord([x0, lv]);
        const c = api.coord([x1, lv]);
        const dark = params.dataIndex % 2 === 1;
        return {
          type: 'polyline', shape: { points: [a, b, c] },
          style: { stroke: dark ? '#000' : '#555', lineWidth: dark ? 1.4 : 0.9, fill: null },
        };
      },
    });
    series.push({
      type: 'line', xAxisIndex: xi, yAxisIndex: yl, data: p.phi, smooth: 0.35, showSymbol: false,
      lineStyle: { color: '#000', width: 0.9 }, silent: true, z: 3,
    });
    series.push({
      type: 'line', xAxisIndex: xi, yAxisIndex: yr, data: p.fit, smooth: 0.35, showSymbol: false,
      lineStyle: { color: '#222', width: 1, type: [1.5, 2.5] }, silent: true, z: 3,
    });
    series.push({
      type: 'custom', xAxisIndex: xi, yAxisIndex: yr, clip: true, silent: true, z: 4,
      data: p.epk, encode: { x: 0, y: [1, 2, 3] },
      renderItem: (params: any, api: any) => {
        const x = api.value(0), y = api.value(1), lo = api.value(2), hi = api.value(3);
        const c = api.coord([x, y]);
        const a = api.coord([x, lo]);
        const b = api.coord([x, hi]);
        const dark = params.dataIndex % 2 === 0;
        const s = 2;
        return {
          type: 'group',
          children: [
            { type: 'line', shape: { x1: a[0], y1: a[1], x2: b[0], y2: b[1] }, style: { stroke: dark ? '#000' : '#777', lineWidth: dark ? 1.5 : 1.2 } },
            { type: 'line', shape: { x1: c[0] - 2, y1: c[1], x2: c[0] + 2, y2: c[1] }, style: { stroke: '#000', lineWidth: 0.8 } },
            { type: 'polygon', shape: { points: [[c[0], c[1] - s], [c[0] + s, c[1]], [c[0], c[1] + s], [c[0] - s, c[1]]] }, style: { fill: '#fff', stroke: '#000', lineWidth: 0.8 } },
          ],
        };
      },
    });
    const labStyle = {
      show: true, position: [0, 0], align: 'center', verticalAlign: 'middle',
      fontSize: 8, fontFamily: FONT, color: '#000', textBorderWidth: 0, textBorderColor: 'transparent', rich: richSub,
    };
    series.push({
      type: 'scatter', xAxisIndex: xi, yAxisIndex: yl, symbolSize: 0, silent: true, z: 6,
      itemStyle: { color: '#000' },
      data: [
        { value: p.phiLab, label: { ...labStyle, formatter: 'φ(t)' } },
        { value: p.epkLab, label: { ...labStyle, formatter: '{e|E}{s|pk}{e|(t)}' } },
      ],
      label: labStyle,
    });
  });

  return { animation: false, backgroundColor: '#fff', title, grid, xAxis, yAxis, series };
}

export default function App() {
  const ref = useRef<HTMLDivElement>(null);
  useEffect(() => {
    if (!ref.current) return;
    const chart = echarts.init(ref.current, undefined, { renderer: 'svg' });
    chart.setOption(buildOption() as any);
    return () => chart.dispose();
  }, []);
  return <div ref={ref} style={{ position: 'absolute', left: 0, top: 0, width: 763, height: 964, background: '#fff' }} />;
}
